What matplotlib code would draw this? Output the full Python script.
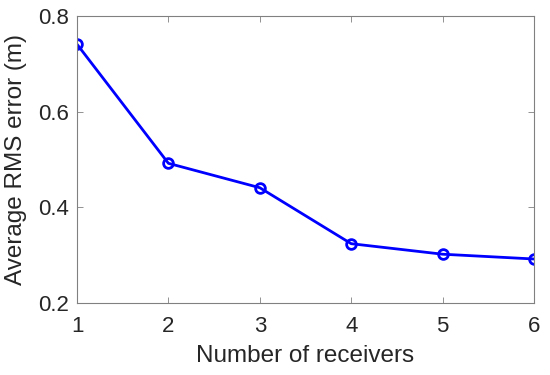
import matplotlib
matplotlib.use("Agg")
import matplotlib.pyplot as plt

receivers = [1, 2, 3, 4, 5, 6]
rms_error = [0.741, 0.492, 0.441, 0.324, 0.302, 0.292]
xticks = [1, 2, 3, 4, 5, 6]
yticks = [0.2, 0.4, 0.6, 0.8]

plt.rcParams['font.family'] = ['Liberation Sans', 'DejaVu Sans']

fig = plt.figure(figsize=(5.5, 3.75), dpi=100)
ax = fig.add_axes([77/550, 1-303/375, (534-77)/550, (303-16)/375])
ax.plot(receivers, rms_error, color='#0000ff', linewidth=2, marker='o',
        markersize=7, markerfacecolor='none', markeredgewidth=2)
ax.set_xlim(1, 6)
ax.set_ylim(0.2, 0.8)
ax.set_xticks(xticks)
ax.set_yticks(yticks)
ax.set_yticklabels([f"{v:.1f}" for v in yticks])
ax.tick_params(direction='in', labelsize=16, colors='#808080', labelcolor='#262626',
               length=4, width=0.6, top=True, right=True)
ax.tick_params(axis='x', pad=9)
ax.tick_params(axis='y', pad=6)
for s in ax.spines.values():
    s.set_color('#808080')
    s.set_linewidth(0.8)
ax.set_xlabel('Number of receivers', fontsize=17.5, color='#262626', labelpad=6)
ax.set_ylabel('Average RMS error (m)', fontsize=17.5, color='#262626', labelpad=8)
fig.savefig('out.png', dpi=100)
